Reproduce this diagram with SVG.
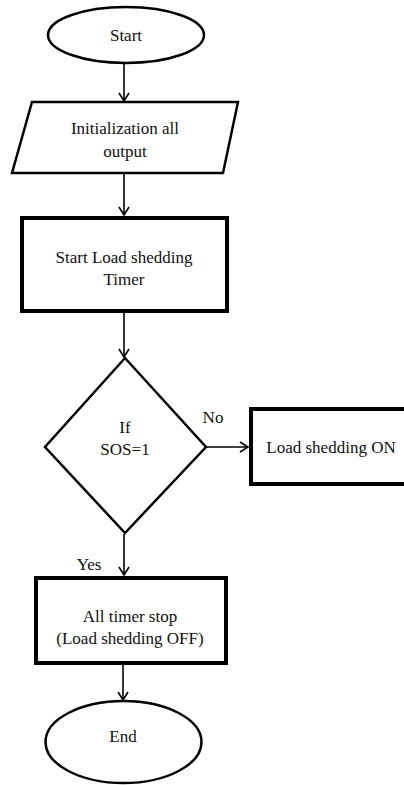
<svg xmlns="http://www.w3.org/2000/svg" width="404" height="785" viewBox="0 0 404 785">
<style>
.s{fill:#fff;stroke:#000;stroke-width:2.5}
.b{fill:#fff;stroke:#000;stroke-width:4}
text{font-family:'Liberation Serif','DejaVu Serif',serif;font-size:17px;fill:#111;text-anchor:middle}
.c{stroke:#000;stroke-width:1.6;fill:none}
</style>
<defs>
<marker id="ah" markerUnits="userSpaceOnUse" markerWidth="12" markerHeight="12" refX="9" refY="6" orient="auto">
<path d="M1,1 L9,6 L1,11" fill="none" stroke="#000" stroke-width="1.6"/>
</marker>
</defs>
<rect width="404" height="785" fill="#fff"/>
<g id="connectors">
<line class="c" x1="124" y1="64" x2="124" y2="101" marker-end="url(#ah)"/>
<line class="c" x1="124" y1="174" x2="124" y2="215" marker-end="url(#ah)"/>
<line class="c" x1="124" y1="313" x2="124" y2="357" marker-end="url(#ah)"/>
<line class="c" x1="207" y1="447" x2="248" y2="447" marker-end="url(#ah)"/>
<line class="c" x1="124" y1="534" x2="124" y2="575" marker-end="url(#ah)"/>
<line class="c" x1="123" y1="665" x2="123" y2="700" marker-end="url(#ah)"/>
<text x="213" y="423" font-family="Liberation Serif">No</text>
<text x="89" y="570" font-family="Liberation Serif">Yes</text>
</g>
<g id="start">
<ellipse class="s" cx="126" cy="35" rx="78" ry="28"/>
<text x="126" y="41" font-family="Liberation Serif">Start</text>
</g>
<g id="init">
<polygon class="s" points="32,102 238,102 223,173 12,173"/>
<text x="125" y="134" font-family="Liberation Serif">Initialization all</text>
<text x="125" y="157" font-family="Liberation Serif">output</text>
</g>
<g id="timer">
<rect class="b" x="22" y="218" width="205" height="93"/>
<text x="124" y="263" font-family="Liberation Serif">Start Load shedding</text>
<text x="124" y="285" font-family="Liberation Serif">Timer</text>
</g>
<g id="decision">
<polygon class="s" points="125,358 206,447 125,533 45,447"/>
<text x="125" y="433" font-family="Liberation Serif">If</text>
<text x="125" y="455" font-family="Liberation Serif">SOS=1</text>
</g>
<g id="ls-on">
<rect class="b" x="251" y="409" width="160" height="75"/>
<text x="331" y="453" font-family="Liberation Serif">Load shedding ON</text>
</g>
<g id="stop">
<rect class="b" x="36" y="578" width="190" height="85"/>
<text x="130" y="622" font-family="Liberation Serif">All timer stop</text>
<text x="130" y="644" font-family="Liberation Serif">(Load shedding OFF)</text>
</g>
<g id="end">
<ellipse class="s" cx="123.5" cy="742" rx="78" ry="41"/>
<text x="123" y="742" font-family="Liberation Serif">End</text>
</g>
</svg>
